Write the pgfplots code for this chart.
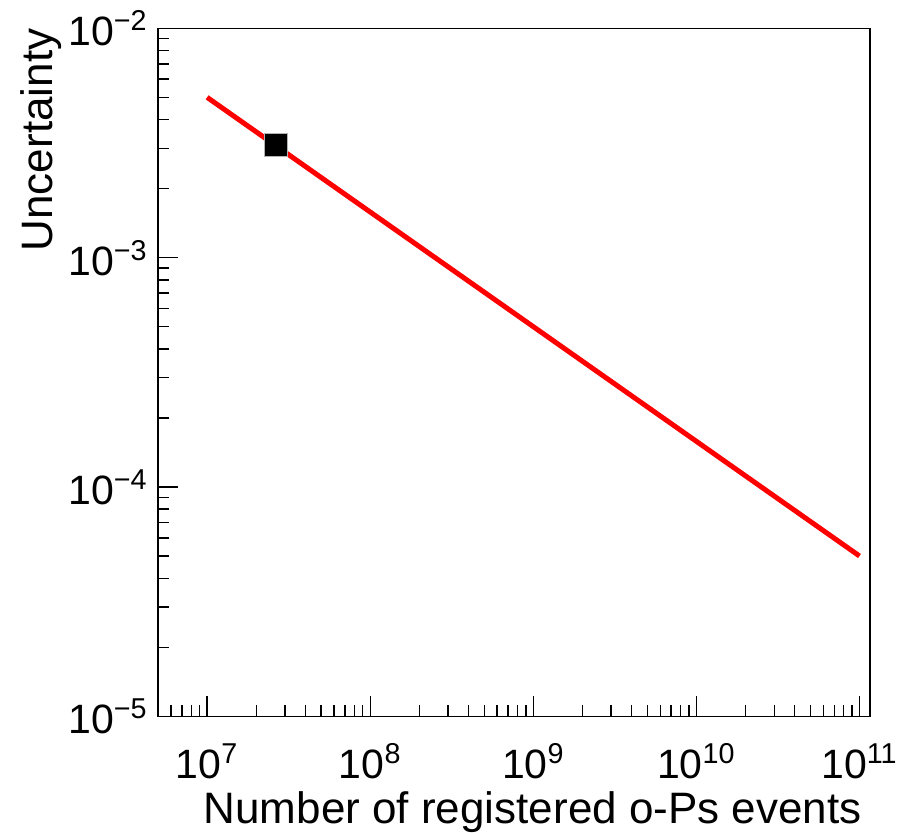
\documentclass[border=0pt]{standalone}
\usepackage{fontspec}
\setmainfont{Liberation Sans}
\usepackage{pgfplots}
\pgfplotsset{compat=1.18}
\begin{document}
\begin{tikzpicture}
\begin{axis}[
  xmode=log, ymode=log,
  scale only axis, width=356pt, height=344pt,
  at={(0,0)}, anchor=south west,
  xmin=5e6, xmax=1.16e11, ymin=1e-5, ymax=1e-2,
  xtick={1e7,1e8,1e9,1e10,1e11},
  xticklabels={10\textsuperscript{7},10\textsuperscript{8},10\textsuperscript{9},10\textsuperscript{10},10\textsuperscript{11}},
  minor xtick={6e6,7e6,8e6,9e6,2e7,3e7,4e7,5e7,6e7,7e7,8e7,9e7,2e8,3e8,4e8,5e8,6e8,7e8,8e8,9e8,2e9,3e9,4e9,5e9,6e9,7e9,8e9,9e9,2e10,3e10,4e10,5e10,6e10,7e10,8e10,9e10},
  ytick={1e-5,1e-4,1e-3,1e-2},
  yticklabels={10\textsuperscript{−5},10\textsuperscript{−4},10\textsuperscript{−3},10\textsuperscript{−2}},
  minor ytick={2e-5,3e-5,4e-5,5e-5,6e-5,7e-5,8e-5,9e-5,2e-4,3e-4,4e-4,5e-4,6e-4,7e-4,8e-4,9e-4,2e-3,3e-3,4e-3,5e-3,6e-3,7e-3,8e-3,9e-3},
  tick pos=left,
  tick align=inside,
  major tick length=10pt, minor tick length=5.5pt,
  axis line style={line width=0.7pt},
  every tick/.style={black, line width=0.7pt},
  tick label style={font=\fontsize{20.5}{24}\selectfont, inner sep=0pt},
  xticklabel style={anchor=base, yshift=-31pt},
  yticklabel style={anchor=base east, xshift=-5pt, yshift=-8.75pt},
  label style={font=\fontsize{22}{26}\selectfont, inner sep=0pt},
  xlabel={Number of registered o-Ps events},
  ylabel={Uncertainty},
  xlabel style={at={(axis description cs:0.98876,-0.15552)}, anchor=base east},
  ylabel style={at={(axis description cs:-0.1475,1)}, anchor=base east},
]
\addplot[red, line width=2.5pt] coordinates {(1e7,5e-3) (1e8,1.581e-3) (1e9,5e-4) (1e10,1.581e-4) (1e11,5e-5)};
\addplot[only marks, mark=square*, mark size=5.75pt, black, mark options={draw=gray!60, line width=0.3pt}] coordinates {(2.62e7,3.09e-3)};
\end{axis}
\pgfresetboundingbox
\path[use as bounding box] (-79pt,-58.35pt) rectangle (371pt,358.15pt);
\end{tikzpicture}
\end{document}
